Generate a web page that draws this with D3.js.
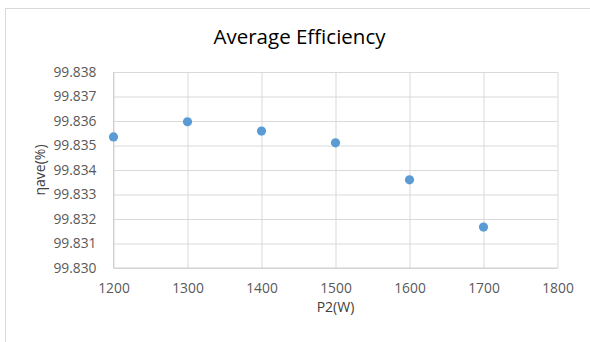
<!DOCTYPE html>
<html>
<head>
<meta charset="utf-8">
<script src="https://cdn.jsdelivr.net/npm/d3@7/dist/d3.min.js"></script>
<style>
  html, body { margin: 0; padding: 0; background: #fff; }
  svg { display: block; }
</style>
</head>
<body>
<svg id="chart" width="590" height="342"></svg>
<script>
// ---- data ----
const power = [1200, 1300, 1400, 1500, 1600, 1700];
const efficiency = [99.83535, 99.83597, 99.83559, 99.83511, 99.83360, 99.83167];
const xTicks = [1200, 1300, 1400, 1500, 1600, 1700, 1800];
const yTicks = [99.830, 99.831, 99.832, 99.833, 99.834, 99.835, 99.836, 99.837, 99.838];
const chartTitle = "Average Efficiency";
const xTitle = "P2(W)";
const yTitle = "ηave(%)";

// ---- layout ----
const W = 590, H = 342;
const plot = { left: 113.5, right: 557.5, top: 72, bottom: 268 };
const font = "'Open Sans', 'Liberation Sans', sans-serif";

const svg = d3.select("#chart");
svg.append("rect").attr("width", W).attr("height", H).attr("fill", "#fff");

// chart area border (only top & left visible)
svg.append("rect")
  .attr("x", 5.5).attr("y", 8.5)
  .attr("width", 600).attr("height", 400)
  .attr("fill", "none").attr("stroke", "#d9d9d9").attr("stroke-width", 1);

const x = d3.scaleLinear().domain([1200, 1800]).range([plot.left, plot.right]);
const y = d3.scaleLinear().domain([99.830, 99.838]).range([plot.bottom, plot.top]);

// gridlines
const gx = svg.append("g")
  .attr("transform", `translate(0,${plot.bottom})`)
  .call(d3.axisBottom(x).tickValues(xTicks).tickSize(-(plot.bottom - plot.top)).tickFormat(""));
gx.select(".domain").remove();
gx.selectAll("line").attr("stroke", "#d9d9d9").attr("stroke-width", 1);

const gy = svg.append("g")
  .attr("transform", `translate(${plot.left},0)`)
  .call(d3.axisLeft(y).tickValues(yTicks).tickSize(-(plot.right - plot.left)).tickFormat(""));
gy.select(".domain").remove();
gy.selectAll("line").attr("stroke", "#d9d9d9").attr("stroke-width", 1);

// axis lines
svg.append("line").attr("x1", plot.left).attr("x2", plot.left)
  .attr("y1", plot.top).attr("y2", plot.bottom).attr("stroke", "#cfcfcf");
svg.append("line").attr("x1", plot.left).attr("x2", plot.right)
  .attr("y1", plot.bottom).attr("y2", plot.bottom).attr("stroke", "#cfcfcf");

// tick labels
const xl = svg.append("g")
  .attr("transform", `translate(0,${plot.bottom})`)
  .call(d3.axisBottom(x).tickValues(xTicks).tickSize(0).tickPadding(15).tickFormat(d3.format("d")));
xl.select(".domain").remove();
xl.selectAll("text").attr("font-family", font).attr("font-size", 13.8).attr("fill", "#595959");

const yl = svg.append("g")
  .attr("transform", `translate(${plot.left},0)`)
  .call(d3.axisLeft(y).tickValues(yTicks).tickSize(0).tickPadding(17).tickFormat(d3.format(".3f")));
yl.select(".domain").remove();
yl.selectAll("text").attr("font-family", font).attr("font-size", 13.8).attr("fill", "#595959");

// points
svg.append("g").selectAll("circle")
  .data(power.map((p, i) => ({ p, e: efficiency[i] })))
  .join("circle")
  .attr("cx", d => x(d.p))
  .attr("cy", d => y(d.e))
  .attr("r", 4.6)
  .attr("fill", "#5B9BD5");

// titles
svg.append("text")
  .attr("x", 299.5).attr("y", 43.5)
  .attr("text-anchor", "middle")
  .attr("font-family", font).attr("font-size", 20.5).attr("fill", "#000")
  .text(chartTitle);

svg.append("text")
  .attr("x", (plot.left + plot.right) / 2).attr("y", 312)
  .attr("text-anchor", "middle")
  .attr("font-family", font).attr("font-size", 14).attr("fill", "#404040")
  .text(xTitle);

svg.append("text")
  .attr("transform", `translate(44.5,${(plot.top + plot.bottom) / 2}) rotate(-90)`)
  .attr("text-anchor", "middle")
  .attr("font-family", font).attr("font-size", 14).attr("fill", "#404040")
  .text(yTitle);
</script>
</body>
</html>
